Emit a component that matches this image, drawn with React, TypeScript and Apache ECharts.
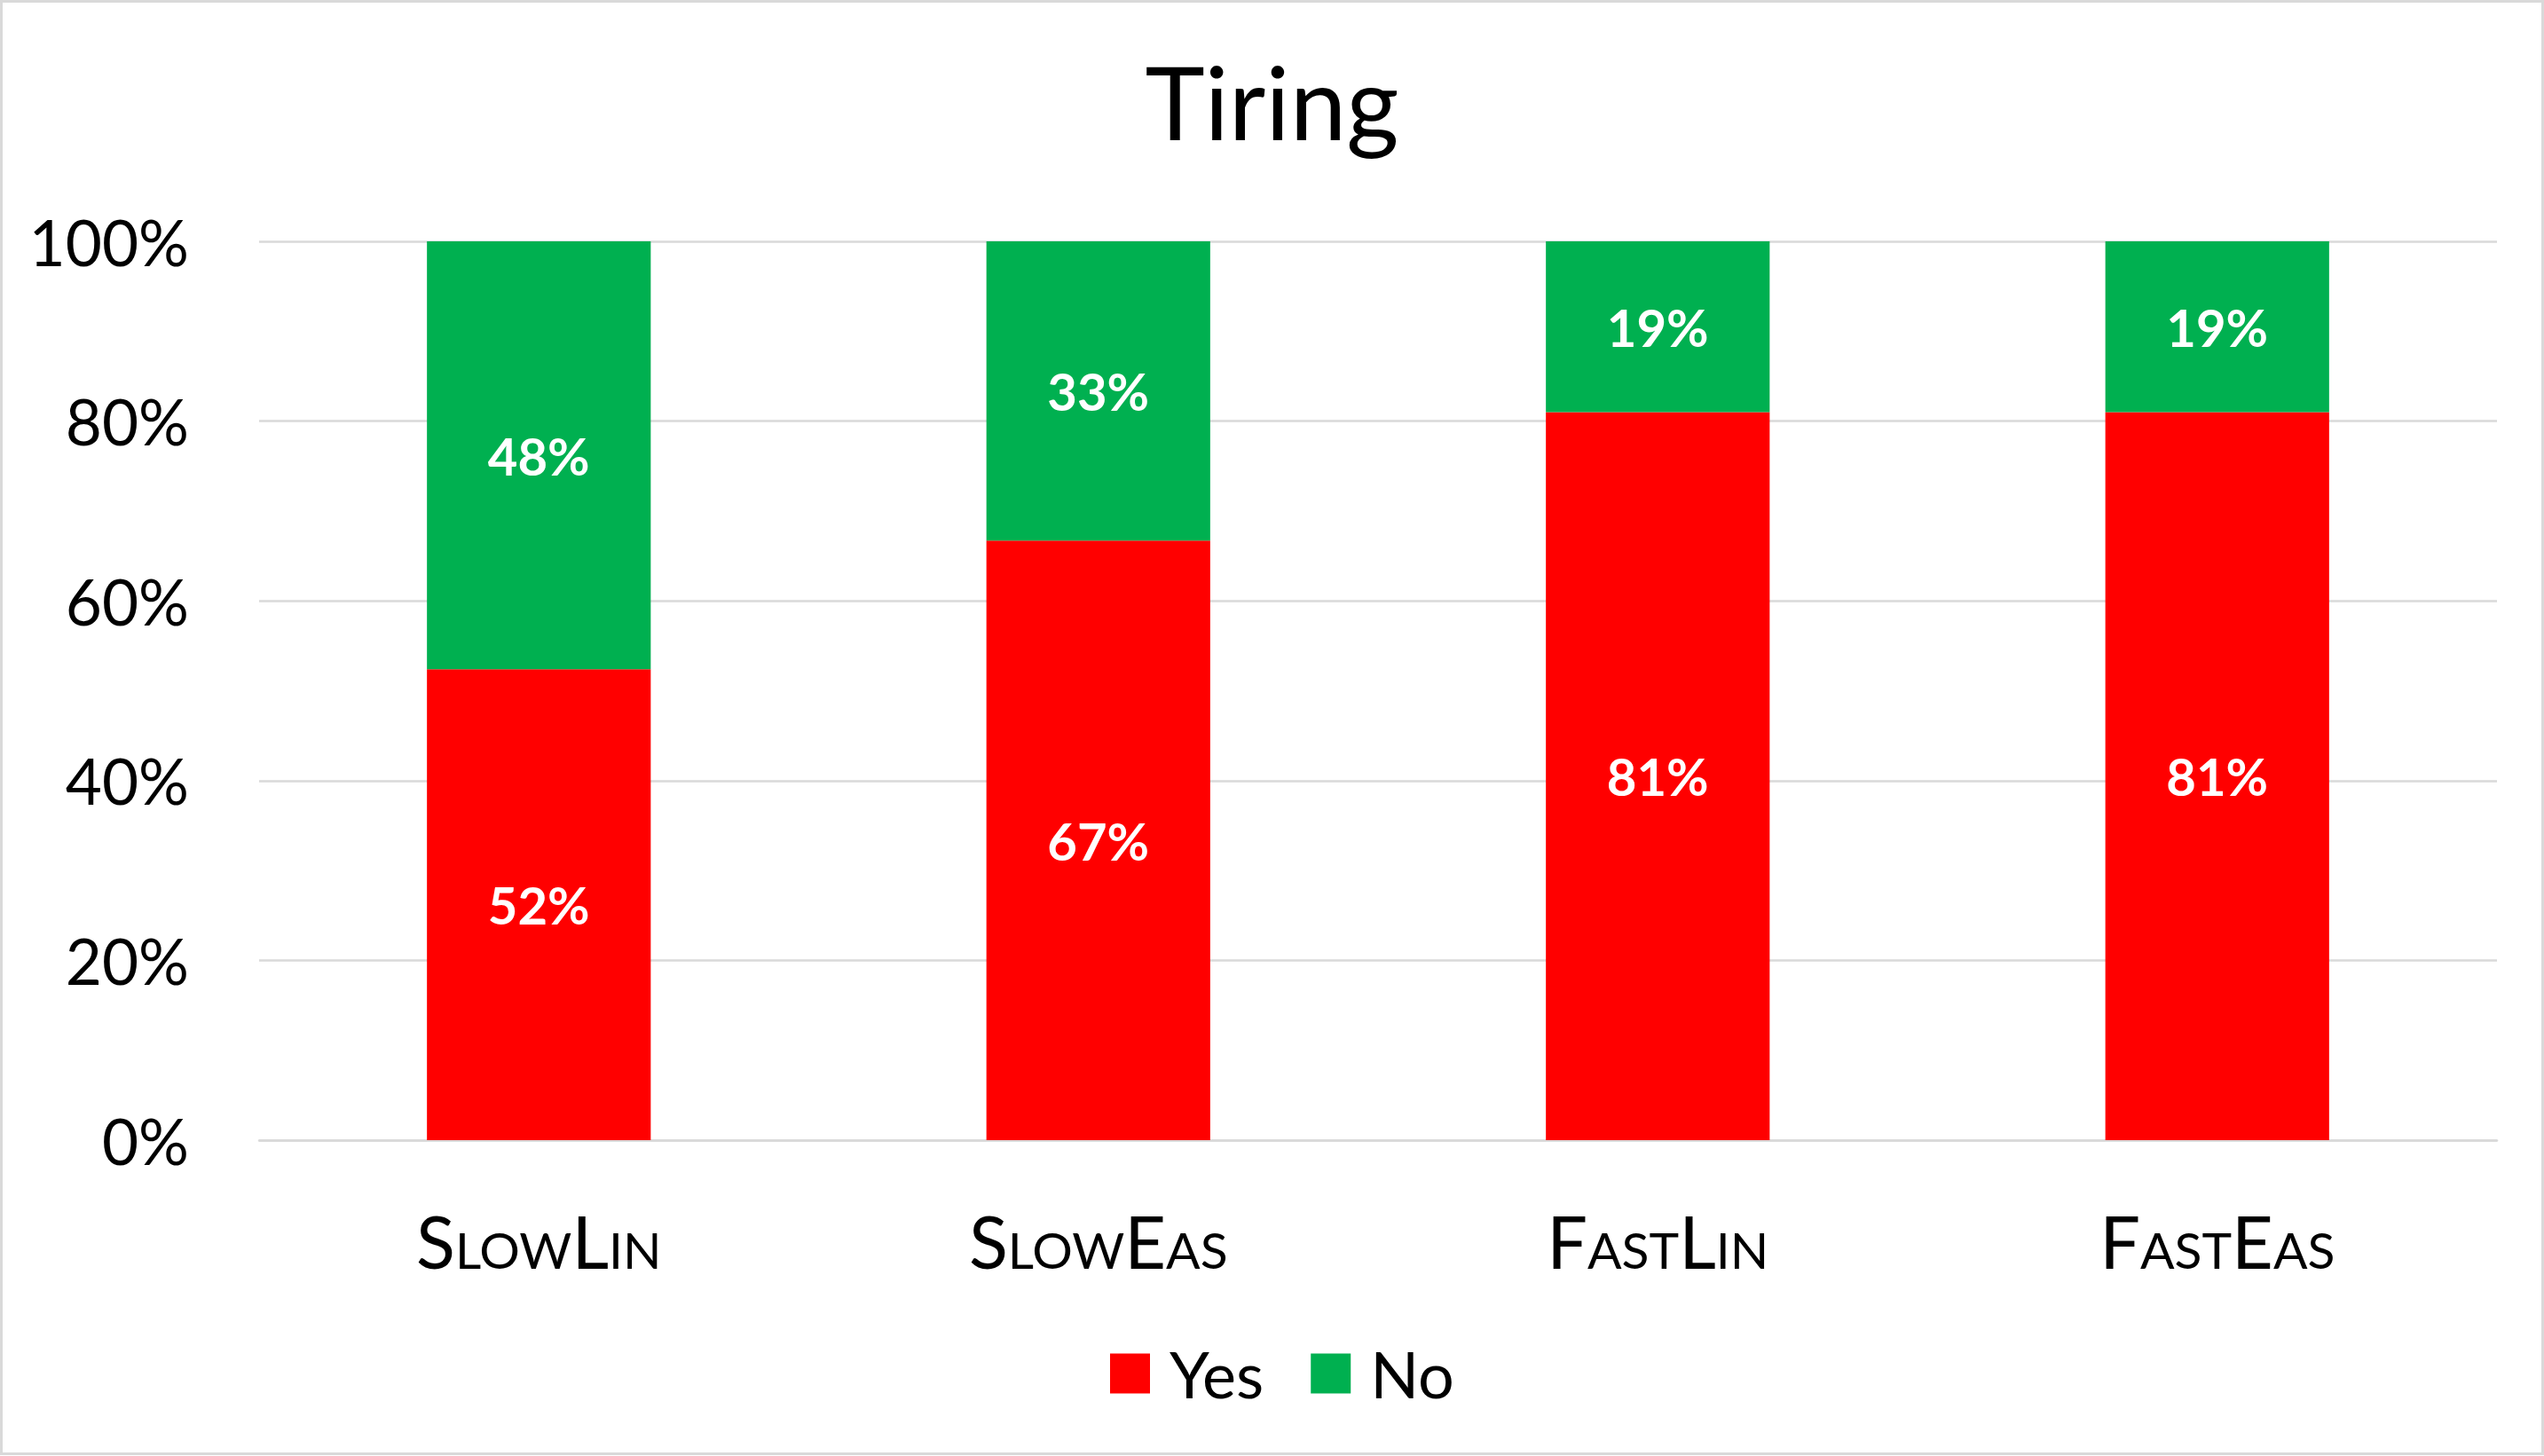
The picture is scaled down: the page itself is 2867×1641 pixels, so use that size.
import React, { useEffect, useRef } from 'react';
import * as echarts from 'echarts';

const categories = ['SlowLin', 'SlowEas', 'FastLin', 'FastEas'];
const yesValues = [52.4, 66.7, 81.0, 81.0];
const noValues = [47.6, 33.3, 19.0, 19.0];
const seriesNames = ['Yes', 'No'];
const seriesColors = ['#FF0000', '#00B050'];
const chartTitle = 'Tiring';

const FONT = 'Lato';

export default function App() {
  const ref = useRef<HTMLDivElement>(null);
  useEffect(() => {
    document.body.style.margin = '0';
    if (!ref.current) return;
    const chart = echarts.init(ref.current, undefined, { renderer: 'svg' });
    const labelStyle = {
      show: true,
      position: 'inside',
      color: '#FFFFFF',
      fontFamily: FONT,
      fontWeight: 'bold',
      fontSize: 58,
      formatter: (p: any) => Math.round(p.value) + '%',
    };
    chart.setOption({
      animation: false,
      backgroundColor: '#FFFFFF',
      title: {
        text: chartTitle,
        left: 'center',
        top: 56,
        padding: 0,
        textStyle: {
          fontFamily: FONT,
          fontWeight: 'normal',
          fontSize: 114,
          lineHeight: 114,
          color: '#000000',
        },
      },
      legend: {
        data: seriesNames,
        left: 1251,
        top: 1509,
        padding: 0,
        itemWidth: 45,
        itemHeight: 45,
        itemGap: 53,
        icon: 'rect',
        textStyle: {
          fontFamily: FONT,
          fontSize: 72,
          lineHeight: 72,
          color: '#000000',
          padding: [0, 0, 6, 17],
        },
      },
      grid: {
        left: 292,
        right: 53,
        top: 272,
        bottom: 356,
        containLabel: false,
        outerBoundsMode: 'none',
      },
      xAxis: {
        type: 'category',
        data: categories,
        axisLine: { show: true, lineStyle: { color: '#D9D9D9', width: 2.5 } },
        axisTick: { show: false },
        axisLabel: {
          interval: 0,
          margin: 73,
          color: '#000000',
          fontSize: 81,
          lineHeight: 81,
          fontFamily: FONT + ';font-variant:small-caps',
        },
      },
      yAxis: {
        type: 'value',
        min: 0,
        max: 100,
        interval: 20,
        axisLine: { show: false },
        axisTick: { show: false },
        axisLabel: {
          formatter: '{value}%',
          margin: 79,
          color: '#000000',
          fontSize: 71,
          lineHeight: 71,
          fontFamily: FONT,
          padding: [0, 0, 14, 0],
        },
        splitLine: { show: true, lineStyle: { color: '#D9D9D9', width: 2.5 } },
      },
      series: [
        {
          name: seriesNames[0],
          type: 'bar',
          stack: 'total',
          barWidth: '40%',
          data: yesValues,
          itemStyle: { color: seriesColors[0] },
          label: labelStyle,
        },
        {
          name: seriesNames[1],
          type: 'bar',
          stack: 'total',
          barWidth: '40%',
          data: noValues,
          itemStyle: { color: seriesColors[1] },
          label: labelStyle,
        },
      ],
      graphic: [
        {
          type: 'rect',
          shape: { x: 1.5, y: 1.5, width: 2864, height: 1637 },
          style: { fill: 'none', stroke: '#D9D9D9', lineWidth: 3 },
          silent: true,
          z: 100,
        },
      ],
    });
    return () => chart.dispose();
  }, []);
  return (
    <div
      ref={ref}
      style={{ position: 'fixed', left: 0, top: 0, width: 2867, height: 1641 }}
    />
  );
}
